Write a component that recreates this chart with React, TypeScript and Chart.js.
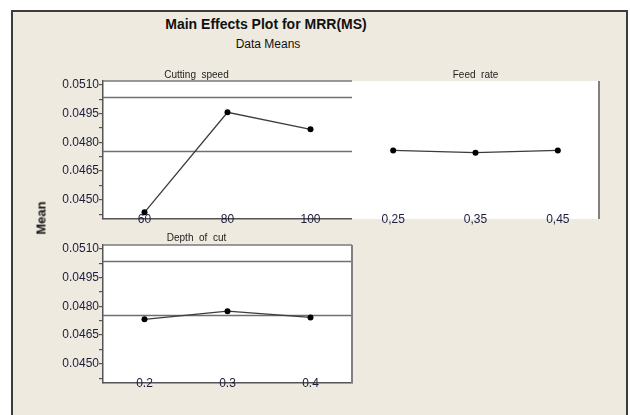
import React, { useEffect, useRef } from "react";
import { Chart, registerables } from "chart.js";

Chart.register(...registerables);

// ---- data ----
const cuttingSpeedLevels = ["60", "80", "100"];
const cuttingSpeedMeans = [0.04435, 0.04957, 0.04868];
const feedRateLevels = ["0,25", "0,35", "0,45"];
const feedRateMeans = [0.04758, 0.04746, 0.04758];
const depthOfCutLevels = ["0.2", "0.3", "0.4"];
const depthOfCutMeans = [0.04732, 0.04775, 0.04742];
const grandMean = 0.04757;
const upperRefLine = 0.05036;
const majorTicks = [0.045, 0.0465, 0.048, 0.0495, 0.051];
const minorTicks = [0.04425, 0.04575, 0.04725, 0.04875, 0.05025];
const yMin = 0.044;
const yMax = 0.0512;

const FONT = "'Liberation Sans', Arial, sans-serif";
const TICK_COLOR = "#1c1c3c";

const panelDecor = {
  id: "panelDecor",
  beforeDraw(chart: any) {
    const { ctx, chartArea: a } = chart;
    ctx.save();
    ctx.fillStyle = "#ffffff";
    ctx.fillRect(a.left, a.top, a.right - a.left, a.bottom - a.top);
    ctx.restore();
  },
  beforeDatasetsDraw(chart: any, _args: any, opts: any) {
    const { ctx, chartArea: a, scales } = chart;
    ctx.save();
    ctx.strokeStyle = "#6f6f6f";
    ctx.lineWidth = 1.5;
    (opts.lines || []).forEach((v: number) => {
      const y = Math.round(scales.y.getPixelForValue(v)) + 0.5;
      ctx.beginPath();
      ctx.moveTo(a.left, y);
      ctx.lineTo(a.right, y);
      ctx.stroke();
    });
    (opts.sides || []).forEach((s: string) => {
      ctx.strokeStyle = s === "right" ? "#808080" : "#7a7a7a";
      ctx.lineWidth = s === "right" ? 2 : 1.5;
      ctx.beginPath();
      if (s === "top") {
        ctx.moveTo(a.left, a.top);
        ctx.lineTo(a.right, a.top);
      } else if (s === "right") {
        ctx.moveTo(a.right, a.top);
        ctx.lineTo(a.right, a.bottom);
      }
      ctx.stroke();
    });
    ctx.restore();
  },
};

function makeConfig(
  levels: string[],
  means: number[],
  title: string,
  o: { showY: boolean; bottomBorder: boolean; lines: number[]; sides: string[]; titlePadBottom: number; padRight: number }
): any {
  return {
    type: "line",
    data: {
      labels: levels,
      datasets: [
        {
          data: means,
          borderColor: "#3c3c3c",
          borderWidth: 1.3,
          pointRadius: 3,
          pointBackgroundColor: "#000000",
          pointBorderColor: "#000000",
          pointBorderWidth: 0,
          tension: 0,
          clip: false,
        },
      ],
    },
    plugins: [panelDecor],
    options: {
      responsive: false,
      animation: false,
      devicePixelRatio: 1,
      layout: { autoPadding: false, padding: { left: 0, right: o.padRight, top: 0, bottom: 0 } },
      plugins: {
        legend: { display: false },
        tooltip: { enabled: false },
        title: {
          display: true,
          text: title,
          color: "#222222",
          font: { family: FONT, size: 10, weight: "normal", lineHeight: 1.2 },
          padding: { top: 0, bottom: o.titlePadBottom },
        },
        panelDecor: { lines: o.lines, sides: o.sides },
      },
      scales: {
        x: {
          type: "category",
          offset: true,
          grid: { display: false, drawTicks: false },
          border: { display: o.bottomBorder, color: "#555555", width: 1.5 },
          ticks: {
            mirror: true,
            padding: -8,
            maxRotation: 0,
            autoSkip: false,
            color: TICK_COLOR,
            font: { family: FONT, size: 12, lineHeight: 1.2 },
          },
          afterFit: (s: any) => {
            s.height = 10;
          },
        },
        y: {
          display: o.showY,
          min: yMin,
          max: yMax,
          grid: {
            display: true,
            drawOnChartArea: false,
            drawTicks: true,
            tickLength: 4,
            color: "#555555",
            lineWidth: 1.2,
          },
          border: { display: true, color: "#555555", width: 1.5 },
          afterBuildTicks: (s: any) => {
            s.ticks = [...majorTicks, ...minorTicks]
              .sort((a, b) => a - b)
              .map((v) => ({ value: v }));
          },
          ticks: {
            autoSkip: false,
            padding: 0,
            color: TICK_COLOR,
            font: { family: FONT, size: 12 },
            callback: (v: any) =>
              majorTicks.some((m) => Math.abs(m - Number(v)) < 1e-9) ? Number(v).toFixed(4) : "",
          },
          afterFit: (s: any) => {
            s.width = o.showY ? 62 : 0;
          },
        },
      },
    },
  };
}

function Panel(props: { left: number; top: number; width: number; height: number; config: any }) {
  const ref = useRef<HTMLCanvasElement | null>(null);
  useEffect(() => {
    if (!ref.current) return;
    const chart = new Chart(ref.current, props.config);
    return () => chart.destroy();
  }, []);
  return (
    <canvas
      ref={ref}
      width={props.width}
      height={props.height}
      style={{ position: "absolute", left: props.left, top: props.top, width: props.width, height: props.height }}
    />
  );
}

export default function App() {
  return (
    <div
      style={{
        position: "absolute",
        left: 0,
        top: 0,
        width: 630,
        height: 415,
        overflow: "hidden",
        background: "#ffffff",
        fontFamily: FONT,
      }}
    >
      <div
        style={{
          position: "absolute",
          left: 11,
          top: 10,
          width: 617,
          height: 420,
          boxSizing: "border-box",
          border: "2px solid #3c3c3c",
          borderBottom: "none",
          background: "#EEEAE0",
        }}
      />
      <div
        style={{
          position: "absolute",
          left: 0,
          width: 532,
          top: 16,
          textAlign: "center",
          fontWeight: "bold",
          fontSize: 14,
          lineHeight: "16px",
          color: "#111111",
        }}
      >
        Main Effects Plot for MRR(MS)
      </div>
      <div
        style={{
          position: "absolute",
          left: 0,
          width: 536,
          top: 37,
          textAlign: "center",
          fontSize: 12,
          lineHeight: "14px",
          color: "#111111",
        }}
      >
        Data Means
      </div>
      <Panel
        left={41}
        top={69}
        width={311}
        height={160}
        config={makeConfig(cuttingSpeedLevels, cuttingSpeedMeans, "Cutting  speed", {
          showY: true,
          bottomBorder: true,
          lines: [upperRefLine, grandMean],
          sides: ["top"],
          titlePadBottom: 0,
          padRight: 0,
        })}
      />
      <Panel
        left={352}
        top={69}
        width={250}
        height={160}
        config={makeConfig(feedRateLevels, feedRateMeans, "Feed  rate", {
          showY: false,
          bottomBorder: false,
          lines: [],
          sides: ["right"],
          titlePadBottom: 0,
          padRight: 3,
        })}
      />
      <Panel
        left={41}
        top={232}
        width={312}
        height={161}
        config={makeConfig(depthOfCutLevels, depthOfCutMeans, "Depth  of  cut", {
          showY: true,
          bottomBorder: true,
          lines: [upperRefLine, grandMean],
          sides: ["top", "right"],
          titlePadBottom: 1,
          padRight: 1,
        })}
      />
      <div
        style={{
          position: "absolute",
          left: 41,
          top: 218,
          transform: "translate(-50%, -50%) rotate(-90deg)",
          fontWeight: "bold",
          fontSize: 13,
          color: "#111111",
          whiteSpace: "nowrap",
        }}
      >
        Mean
      </div>
    </div>
  );
}
